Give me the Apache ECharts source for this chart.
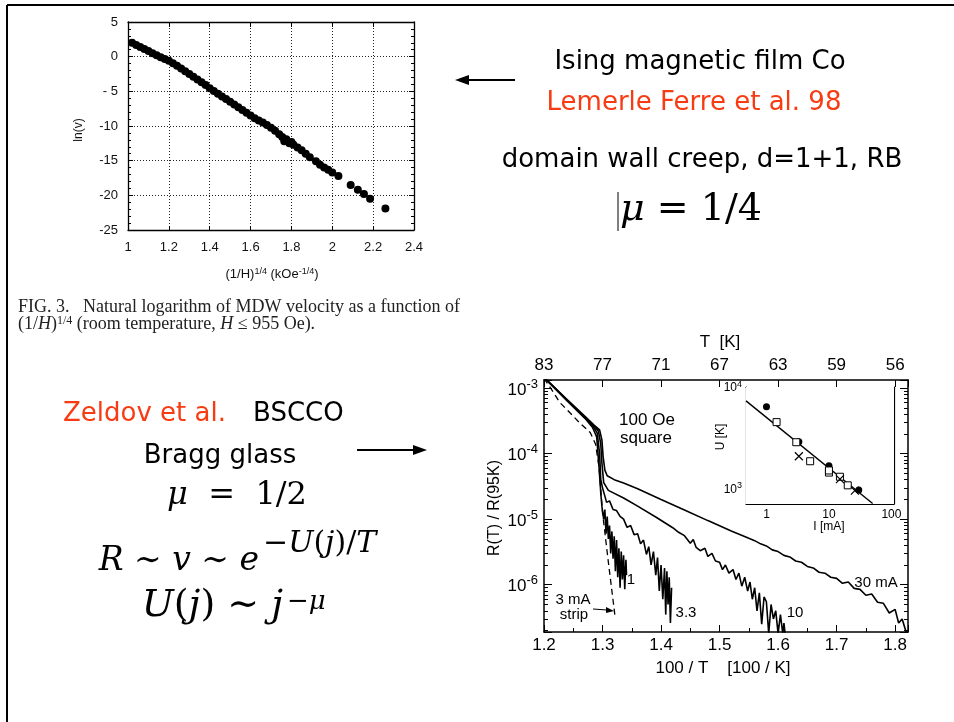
<!DOCTYPE html>
<html>
<head>
<meta charset="utf-8">
<script src="https://cdn.jsdelivr.net/npm/echarts@6/dist/echarts.min.js"></script>
<style>
html,body{margin:0;padding:0;background:#fff;}
#chart{width:954px;height:722px;}
</style>
</head>
<body>
<div id="chart"></div>
<script>
// ---- Lemerle et al. : ln(v) against (1/H)^(1/4)
var creepX = [1.02,1.04,1.06,1.08,1.10,1.12,1.14,1.16,1.18,1.20,1.22,1.24,1.26,1.28,1.30,1.32,1.34,1.36,1.38,1.40,
	1.42,1.44,1.46,1.48,1.50,1.52,1.54,1.56,1.58,1.60,1.62,1.64,1.66,1.68,1.70,1.72,1.74,
	1.755,1.765,1.775,1.79,1.80,1.81,1.83,1.85,1.87,1.89,1.92,1.94,1.96,1.98,2.00,2.03,2.09,2.125,2.155,2.185,2.26];
var creepLnV = [2.0,1.7,1.4,1.1,0.8,0.5,0.2,-0.1,-0.35,-0.6,-0.95,-1.3,-1.7,-2.1,-2.5,-2.9,-3.3,-3.7,-4.1,-4.55,
	-4.95,-5.35,-5.75,-6.1,-6.5,-6.9,-7.3,-7.7,-8.1,-8.5,-8.9,-9.2,-9.5,-9.85,-10.25,-10.7,-11.2,
	-11.6,-12.2,-11.9,-12.5,-12.3,-12.7,-13.1,-13.5,-14.0,-14.5,-15.1,-15.6,-16.0,-16.3,-16.7,-17.2,-18.5,-19.2,-19.8,-20.5,-21.9];

// ---- Zeldov et al. : R(T)/R(95K) against 100/T, one list of [100/T, R] per current
var curve30mA = [[1.200,1.45e-3],[1.240,6.6e-4],[1.270,3.7e-4],[1.286,2.7e-4],[1.295,2.3e-4],[1.299,1.6e-4],
	[1.301,9.0e-5],[1.304,5.6e-5],[1.308,4.6e-5],[1.320,4.0e-5],[1.336,3.55e-5],[1.360,2.9e-5],[1.400,2.0e-5],
	[1.440,1.38e-5],[1.480,9.5e-6],[1.520,6.6e-6],[1.550,5.1e-6],[1.560,4.7e-6],[1.570,4.2e-6],[1.580,3.9e-6],
	[1.590,3.4e-6],[1.600,3.2e-6],[1.610,2.8e-6],[1.620,2.65e-6],[1.630,2.3e-6],[1.640,2.2e-6],[1.650,1.9e-6],
	[1.660,1.8e-6],[1.670,1.55e-6],[1.680,1.5e-6],[1.690,1.3e-6],[1.700,1.25e-6],[1.710,1.05e-6],[1.720,1.1e-6],
	[1.730,8.8e-7],[1.740,8.5e-7],[1.750,6.9e-7],[1.760,7.2e-7],[1.770,5.4e-7],[1.780,5.2e-7],[1.790,3.7e-7],
	[1.800,4.2e-7],[1.806,2.6e-7],[1.812,3.0e-7],[1.818,2.0e-7],[1.822,1.7e-7]];
var curve10mA = [[1.200,1.45e-3],[1.240,6.5e-4],[1.270,3.6e-4],[1.285,2.65e-4],[1.293,2.2e-4],[1.297,1.4e-4],
	[1.299,7.1e-5],[1.302,3.6e-5],[1.310,2.75e-5],[1.336,2.1e-5],[1.360,1.58e-5],[1.393,1.05e-5],[1.420,7.4e-6],
	[1.430,6.3e-6],[1.440,5.6e-6],[1.450,4.3e-6],[1.455,4.9e-6],[1.460,3.7e-6],[1.467,3.3e-6],[1.475,3.6e-6],
	[1.480,2.7e-6],[1.487,3.0e-6],[1.493,2.3e-6],[1.500,2.2e-6],[1.505,1.7e-6],[1.510,2.0e-6],[1.516,1.5e-6],
	[1.523,1.7e-6],[1.528,1.2e-6],[1.533,1.5e-6],[1.538,9.5e-7],[1.543,1.3e-6],[1.548,8.0e-7],[1.552,1.1e-6],
	[1.556,6.0e-7],[1.560,9.0e-7],[1.564,4.0e-7],[1.568,7.5e-7],[1.572,2.5e-7],[1.576,6.5e-7],[1.580,5.5e-7],
	[1.584,1.8e-7],[1.588,5.0e-7],[1.592,3.0e-7],[1.596,4.0e-7],[1.600,1.8e-7],[1.604,3.5e-7],[1.608,1.8e-7],
	[1.610,2.6e-7],[1.612,1.8e-7]];
var curve3p3mA = [[1.200,1.45e-3],[1.240,6.4e-4],[1.270,3.5e-4],[1.284,2.6e-4],[1.291,2.05e-4],[1.295,1.0e-4],
	[1.297,4.0e-5],[1.300,3.0e-5],[1.307,1.8e-5],[1.312,1.9e-5],[1.318,1.4e-5],[1.324,1.35e-5],[1.330,1.1e-5],
	[1.336,1.0e-5],[1.342,7.5e-6],[1.348,8.0e-6],[1.354,5.8e-6],[1.360,6.0e-6],[1.365,4.2e-6],[1.370,4.8e-6],
	[1.375,2.9e-6],[1.379,3.8e-6],[1.383,2.0e-6],[1.387,3.2e-6],[1.391,1.4e-6],[1.394,2.6e-6],[1.397,8.0e-7],
	[1.400,2.0e-6],[1.403,6.0e-7],[1.406,1.8e-6],[1.408,3.5e-7],[1.410,1.6e-6],[1.412,5.0e-7],[1.414,1.3e-6],
	[1.416,2.6e-7],[1.418,9.0e-7]];
var curve1mA = [[1.200,1.45e-3],[1.240,6.3e-4],[1.270,3.45e-4],[1.283,2.5e-4],[1.290,1.8e-4],[1.294,6.3e-5],
	[1.297,2.5e-5],[1.299,1.55e-5],[1.302,1.0e-5],[1.304,1.4e-5],[1.306,6.0e-6],[1.308,1.1e-5],[1.310,5.0e-6],
	[1.312,8.0e-6],[1.314,3.0e-6],[1.316,6.5e-6],[1.318,2.5e-6],[1.320,5.5e-6],[1.322,1.6e-6],[1.324,4.8e-6],
	[1.326,1.3e-6],[1.328,3.6e-6],[1.330,9.0e-7],[1.332,3.2e-6],[1.334,1.2e-6],[1.336,2.8e-6],[1.338,8.5e-7],
	[1.340,2.4e-6],[1.341,1.4e-6]];
var curveStrip3mA = [[1.200,1.40e-3],[1.215,8.9e-4],[1.227,6.0e-4],[1.240,4.6e-4],[1.260,3.0e-4],[1.279,2.1e-4],
	[1.288,1.4e-4],[1.294,6.3e-5],[1.300,1.26e-5],[1.310,2.2e-6],[1.321,3.5e-7]];
var tempLabels = ['83', '77', '71', '67', '63', '59', '56'];

// ---- inset : U [K] against I [mA]
var insetCircles = [[1,6400],[3.3,2880],[10,1670],[30,960]];
var insetSquares = [[1.45,4500],[3,2850],[5,1850],[10,1430],[10,1500],[15,1300],[20,1070]];
var insetCrosses = [[3.3,2070],[15,1230],[26,950]];
var insetFit = [[0.47,7300],[50,707]];

// log minor tick positions
function minorList(d0, d1, lo, hi) {
	var out = [];
	for (var d = d0; d <= d1; d++) {
		for (var k = 2; k <= 9; k++) {
			var v = k * Math.pow(10, d);
			if (v > lo && v < hi) out.push(v);
		}
	}
	return out;
}
var mainMinor = minorList(-7, -4, 1.9e-7, 1.325e-3);
var insetXMinor = minorList(-1, 1, 0.47, 110);
var insetYMinor = minorList(2, 3, 700, 10000);

var SANS = 'Liberation Sans';
var MATH = 'DejaVu Serif';

function isDecade(v) {
	var e = Math.log10(v);
	return Math.abs(e - Math.round(e)) < 1e-6;
}
function powLabel(v) {
	if (!isDecade(v)) return '';
	return '{b|10}{s|' + Math.round(Math.log10(v)) + '}';
}
function stepIndex(v, start, step) {
	var i = Math.round((v - start) / step);
	return Math.abs(v - (start + i * step)) < 1e-6 ? i : -1;
}

var myChart = echarts.init(document.getElementById('chart'));

var blackLine = {onZero: false, lineStyle: {color: '#000', width: 1.3}};
var noLine = {show: false, onZero: false};
var curveStyle = {color: '#000', width: 1.6};

option = {
	animation: false,
	grid: [
		{left: 128, top: 22, width: 286, height: 208},
		{left: 544, top: 380, width: 364, height: 252},
		{left: 746, top: 387, width: 148, height: 117, show: true, backgroundColor: '#fff', borderWidth: 0, z: 5}
	],
	xAxis: [
		{
			gridIndex: 0, type: 'value', min: 1, max: 2.4, interval: 0.2, position: 'bottom',
			axisLine: blackLine,
			axisTick: {inside: true, length: 4, lineStyle: {color: '#000'}},
			axisLabel: {color: '#111', fontFamily: SANS, fontSize: 13, margin: 11},
			splitLine: {show: true, lineStyle: {color: '#222', type: [1, 2], width: 1}}
		},
		{
			gridIndex: 0, type: 'value', min: 1, max: 2.4, interval: 0.2, position: 'top',
			axisLine: blackLine,
			axisTick: {inside: true, length: 5, lineStyle: {color: '#000'}},
			axisLabel: {show: false}, splitLine: {show: false}
		},
		{
			gridIndex: 1, type: 'value', min: 1.2, max: 1.822, interval: 0.1, position: 'bottom',
			axisLine: {onZero: false, lineStyle: {color: '#000', width: 1.5}},
			axisTick: {inside: true, length: 7, lineStyle: {color: '#000'}},
			minorTick: {show: true, splitNumber: 2, length: 4, lineStyle: {color: '#000'}},
			axisLabel: {color: '#000', fontFamily: SANS, fontSize: 17, margin: 5,
				formatter: function (v) { return stepIndex(v, 1.2, 0.1) >= 0 ? v.toFixed(1) : ''; }},
			splitLine: {show: false}
		},
		{
			gridIndex: 1, type: 'value', min: 1.2, max: 1.822, interval: 0.1, position: 'top',
			axisLine: {onZero: false, lineStyle: {color: '#000', width: 1.5}},
			axisTick: {inside: true, length: 7, lineStyle: {color: '#000'}},
			axisLabel: {color: '#000', fontFamily: SANS, fontSize: 17, margin: 6,
				formatter: function (v) { var i = stepIndex(v, 1.2, 0.1); return i >= 0 && tempLabels[i] ? tempLabels[i] : ''; }},
			splitLine: {show: false}
		},
		{
			gridIndex: 2, type: 'log', logBase: 10, min: 0.47, max: 110, position: 'bottom',
			axisLine: {onZero: false, lineStyle: {color: '#000', width: 1.2}},
			axisTick: {inside: true, length: 6, lineStyle: {color: '#000'}},
			axisLabel: {color: '#000', fontFamily: SANS, fontSize: 12, margin: 5,
				formatter: function (v) { return isDecade(v) ? String(Math.round(v)) : ''; }},
			splitLine: {show: false}
		},
		{
			gridIndex: 2, type: 'log', logBase: 10, min: 0.47, max: 110, position: 'bottom',
			axisLine: noLine,
			axisTick: {inside: true, length: 3, customValues: insetXMinor, lineStyle: {color: '#000'}},
			axisLabel: {show: false}, splitLine: {show: false}
		},
		{
			gridIndex: 2, type: 'log', logBase: 10, min: 0.47, max: 110, position: 'top',
			axisLine: {onZero: false, lineStyle: {color: '#000', width: 1.2}},
			axisTick: {inside: true, length: 6, lineStyle: {color: '#000'}},
			axisLabel: {show: false}, splitLine: {show: false}
		},
		{
			gridIndex: 2, type: 'log', logBase: 10, min: 0.47, max: 110, position: 'top',
			axisLine: noLine,
			axisTick: {inside: true, length: 3, customValues: insetXMinor, lineStyle: {color: '#000'}},
			axisLabel: {show: false}, splitLine: {show: false}
		}
	],
	yAxis: [
		{
			gridIndex: 0, type: 'value', min: -25, max: 5, interval: 5, position: 'left',
			axisLine: blackLine,
			axisTick: {inside: true, length: 5, lineStyle: {color: '#000'}},
			minorTick: {show: true, splitNumber: 5, length: 3, lineStyle: {color: '#000'}},
			axisLabel: {color: '#111', fontFamily: SANS, fontSize: 13, margin: 10,
				formatter: function (v) { return v < 0 ? (v > -10 ? '- ' + (-v) : '-' + (-v)) : String(v); }},
			splitLine: {show: true, lineStyle: {color: '#222', type: [1, 2], width: 1}}
		},
		{
			gridIndex: 0, type: 'value', min: -25, max: 5, interval: 5, position: 'right',
			axisLine: blackLine,
			axisTick: {inside: true, length: 5, lineStyle: {color: '#000'}},
			minorTick: {show: true, splitNumber: 5, length: 3, lineStyle: {color: '#000'}},
			axisLabel: {show: false}, splitLine: {show: false}
		},
		{
			gridIndex: 1, type: 'log', logBase: 10, min: 1.9e-7, max: 1.325e-3, position: 'left',
			axisLine: {onZero: false, lineStyle: {color: '#000', width: 1.5}},
			axisTick: {inside: true, length: 8, lineStyle: {color: '#000'}},
			axisLabel: {color: '#000', fontFamily: SANS, margin: 6, formatter: powLabel,
				rich: {
					b: {fontSize: 17, fontFamily: SANS, verticalAlign: 'bottom'},
					s: {fontSize: 13, fontFamily: SANS, verticalAlign: 'top', padding: [0, 0, 8, 0]}
				}},
			splitLine: {show: false}
		},
		{
			gridIndex: 1, type: 'log', logBase: 10, min: 1.9e-7, max: 1.325e-3, position: 'left',
			axisLine: noLine,
			axisTick: {inside: true, length: 4, customValues: mainMinor, lineStyle: {color: '#000'}},
			axisLabel: {show: false}, splitLine: {show: false}
		},
		{
			gridIndex: 1, type: 'log', logBase: 10, min: 1.9e-7, max: 1.325e-3, position: 'right',
			axisLine: {onZero: false, lineStyle: {color: '#000', width: 1.5}},
			axisTick: {inside: true, length: 8, lineStyle: {color: '#000'}},
			axisLabel: {show: false}, splitLine: {show: false}
		},
		{
			gridIndex: 1, type: 'log', logBase: 10, min: 1.9e-7, max: 1.325e-3, position: 'right',
			axisLine: noLine,
			axisTick: {inside: true, length: 4, customValues: mainMinor, lineStyle: {color: '#000'}},
			axisLabel: {show: false}, splitLine: {show: false}
		},
		{
			gridIndex: 2, type: 'log', logBase: 10, min: 700, max: 10000, position: 'left',
			axisLine: {onZero: false, lineStyle: {color: '#000', width: 1.2}},
			axisTick: {inside: true, length: 6, lineStyle: {color: '#000'}},
			axisLabel: {color: '#000', fontFamily: SANS, margin: 4, formatter: powLabel,
				rich: {
					b: {fontSize: 12, fontFamily: SANS, verticalAlign: 'bottom'},
					s: {fontSize: 9, fontFamily: SANS, verticalAlign: 'top', padding: [0, 0, 5, 0]}
				}},
			splitLine: {show: false}
		},
		{
			gridIndex: 2, type: 'log', logBase: 10, min: 700, max: 10000, position: 'left',
			axisLine: noLine,
			axisTick: {inside: true, length: 3, customValues: insetYMinor, lineStyle: {color: '#000'}},
			axisLabel: {show: false}, splitLine: {show: false}
		},
		{
			gridIndex: 2, type: 'log', logBase: 10, min: 700, max: 10000, position: 'right',
			axisLine: {onZero: false, lineStyle: {color: '#000', width: 1.2}},
			axisTick: {inside: true, length: 6, lineStyle: {color: '#000'}},
			axisLabel: {show: false}, splitLine: {show: false}
		},
		{
			gridIndex: 2, type: 'log', logBase: 10, min: 700, max: 10000, position: 'right',
			axisLine: noLine,
			axisTick: {inside: true, length: 3, customValues: insetYMinor, lineStyle: {color: '#000'}},
			axisLabel: {show: false}, splitLine: {show: false}
		}
	],
	series: [
		{
			name: 'ln(v)', type: 'scatter', xAxisIndex: 0, yAxisIndex: 0,
			symbolSize: 8, itemStyle: {color: '#000', opacity: 1},
			data: creepX.map(function (x, i) { return [x, creepLnV[i]]; })
		},
		{name: '30 mA', type: 'line', xAxisIndex: 2, yAxisIndex: 2, showSymbol: false, symbol: 'none',
			lineStyle: curveStyle, data: curve30mA},
		{name: '10 mA', type: 'line', xAxisIndex: 2, yAxisIndex: 2, showSymbol: false, symbol: 'none',
			lineStyle: curveStyle, data: curve10mA},
		{name: '3.3 mA', type: 'line', xAxisIndex: 2, yAxisIndex: 2, showSymbol: false, symbol: 'none',
			lineStyle: curveStyle, data: curve3p3mA},
		{name: '1 mA', type: 'line', xAxisIndex: 2, yAxisIndex: 2, showSymbol: false, symbol: 'none',
			lineStyle: curveStyle, data: curve1mA},
		{name: '3 mA strip', type: 'line', xAxisIndex: 2, yAxisIndex: 2, showSymbol: false, symbol: 'none',
			lineStyle: {color: '#000', width: 1.3, type: [6, 4]}, data: curveStrip3mA},
		{name: 'fit', type: 'line', xAxisIndex: 4, yAxisIndex: 6, showSymbol: false, symbol: 'none', z: 6,
			lineStyle: {color: '#000', width: 1.4}, data: insetFit},
		{name: 'circles', type: 'scatter', xAxisIndex: 4, yAxisIndex: 6, symbol: 'circle', symbolSize: 7, z: 7,
			itemStyle: {color: '#000', opacity: 1}, data: insetCircles},
		{name: 'squares', type: 'scatter', xAxisIndex: 4, yAxisIndex: 6, symbol: 'rect', symbolSize: 7, z: 7,
			itemStyle: {color: '#fff', borderColor: '#000', borderWidth: 1, opacity: 1}, data: insetSquares},
		{name: 'crosses', type: 'scatter', xAxisIndex: 4, yAxisIndex: 6, symbol: 'path://M0,0L10,10M10,0L0,10',
			symbolSize: 8, z: 7, itemStyle: {color: 'none', borderColor: '#000', borderWidth: 1.2, opacity: 1}, data: insetCrosses}
	],
	graphic: [
		// slide frame
		{type: 'line', shape: {x1: 7, y1: 5, x2: 954, y2: 5}, style: {stroke: '#000', lineWidth: 2}},
		{type: 'line', shape: {x1: 7, y1: 5, x2: 7, y2: 722}, style: {stroke: '#000', lineWidth: 2}},

		// top-left figure texts
		{type: 'text', x: 79, y: 130, rotation: Math.PI / 2,
			style: {text: 'ln(v)', fontSize: 12, fontFamily: SANS, fill: '#111', align: 'center', verticalAlign: 'middle'}},
		{type: 'text', x: 272, y: 274,
			style: {text: '{b|(1/H)}{s|1/4}{b| (kOe}{s|-1/4}{b|)}', align: 'center', verticalAlign: 'middle', fill: '#111',
				rich: {
					b: {fontSize: 13, fontFamily: SANS, verticalAlign: 'bottom'},
					s: {fontSize: 9, fontFamily: SANS, verticalAlign: 'top', padding: [0, 0, 5, 0]}
				}}},
		{type: 'text', x: 18, y: 307,
			style: {text: 'FIG. 3.   Natural logarithm of MDW velocity as a function of', fontSize: 18,
				fontFamily: 'Liberation Serif', fill: '#222', align: 'left', verticalAlign: 'middle'}},
		{type: 'text', x: 18, y: 324,
			style: {text: '{n|(1/}{i|H}{n|)}{s|1/4}{n| (room temperature, }{i|H}{n| \u2264 955 Oe).}', fill: '#222',
				align: 'left', verticalAlign: 'middle',
				rich: {
					n: {fontSize: 18, fontFamily: 'Liberation Serif', verticalAlign: 'bottom'},
					i: {fontSize: 18, fontFamily: 'Liberation Serif', fontStyle: 'italic', verticalAlign: 'bottom'},
					s: {fontSize: 12, fontFamily: 'Liberation Serif', verticalAlign: 'top', padding: [0, 0, 7, 0]}
				}}},

		// top-right notes
		{type: 'line', shape: {x1: 515, y1: 80, x2: 466, y2: 80}, style: {stroke: '#000', lineWidth: 2}},
		{type: 'polygon', shape: {points: [[455, 80], [469, 75], [469, 85]]}, style: {fill: '#000'}},
		{type: 'text', x: 700, y: 62,
			style: {text: 'Ising magnetic film Co', fontSize: 26, fontFamily: 'DejaVu Sans', fill: '#000', align: 'center', verticalAlign: 'middle'}},
		{type: 'text', x: 694, y: 103,
			style: {text: 'Lemerle Ferre et al. 98', fontSize: 26, fontFamily: 'DejaVu Sans', fill: '#f73c14', align: 'center', verticalAlign: 'middle'}},
		{type: 'text', x: 702, y: 160,
			style: {text: 'domain wall creep, d=1+1, RB', fontSize: 26, fontFamily: 'DejaVu Sans', fill: '#000', align: 'center', verticalAlign: 'middle'}},
		{type: 'line', shape: {x1: 618, y1: 192, x2: 618, y2: 231}, style: {stroke: '#000', lineWidth: 1}},
		{type: 'text', x: 691, y: 210,
			style: {text: '{i|\u03bc}{n| = 1/4}', align: 'center', verticalAlign: 'middle', fill: '#000',
				rich: {
					i: {fontSize: 38, fontFamily: MATH, fontStyle: 'italic'},
					n: {fontSize: 38, fontFamily: MATH}
				}}},

		// bottom-left notes
		{type: 'text', x: 63, y: 414,
			style: {text: 'Zeldov et al.', fontSize: 26, fontFamily: 'DejaVu Sans', fill: '#f73c14', align: 'left', verticalAlign: 'middle'}},
		{type: 'text', x: 253, y: 414,
			style: {text: 'BSCCO', fontSize: 26, fontFamily: 'DejaVu Sans', fill: '#000', align: 'left', verticalAlign: 'middle'}},
		{type: 'text', x: 220, y: 456,
			style: {text: 'Bragg glass', fontSize: 26, fontFamily: 'DejaVu Sans', fill: '#000', align: 'center', verticalAlign: 'middle'}},
		{type: 'line', shape: {x1: 357, y1: 450, x2: 415, y2: 450}, style: {stroke: '#000', lineWidth: 2}},
		{type: 'polygon', shape: {points: [[427, 450], [413, 445], [413, 455]]}, style: {fill: '#000'}},
		{type: 'text', x: 237, y: 496,
			style: {text: '{i|\u03bc}{n|  =  1/2}', align: 'center', verticalAlign: 'middle', fill: '#000',
				rich: {
					i: {fontSize: 32, fontFamily: MATH, fontStyle: 'italic'},
					n: {fontSize: 32, fontFamily: MATH}
				}}},
		{type: 'text', x: 259, y: 561,
			style: {text: '{i|R}{n| \u223c }{i|v}{n| \u223c }{i|e}', align: 'right', verticalAlign: 'middle', fill: '#000',
				rich: {
					i: {fontSize: 33, fontFamily: MATH, fontStyle: 'italic'},
					n: {fontSize: 33, fontFamily: MATH}
				}}},
		{type: 'text', x: 263, y: 544,
			style: {text: '{n|\u2212}{i|U}{n|(}{i|j}{n|)/}{i|T}', align: 'left', verticalAlign: 'middle', fill: '#000',
				rich: {
					i: {fontSize: 30, fontFamily: MATH, fontStyle: 'italic'},
					n: {fontSize: 30, fontFamily: MATH}
				}}},
		{type: 'text', x: 283, y: 606,
			style: {text: '{i|U}{n|(}{i|j}{n|) \u223c }{i|j}', align: 'right', verticalAlign: 'middle', fill: '#000',
				rich: {
					i: {fontSize: 38, fontFamily: MATH, fontStyle: 'italic'},
					n: {fontSize: 38, fontFamily: MATH}
				}}},
		{type: 'text', x: 287, y: 602,
			style: {text: '{n|\u2212}{i|\u03bc}', align: 'left', verticalAlign: 'middle', fill: '#000',
				rich: {
					i: {fontSize: 26, fontFamily: MATH, fontStyle: 'italic'},
					n: {fontSize: 26, fontFamily: MATH}
				}}},

		// bottom-right figure labels
		{type: 'text', x: 720, y: 342,
			style: {text: 'T  [K]', fontSize: 17, fontFamily: SANS, fill: '#000', align: 'center', verticalAlign: 'middle'}},
		{type: 'text', x: 723, y: 668,
			style: {text: '100 / T    [100 / K]', fontSize: 17, fontFamily: SANS, fill: '#000', align: 'center', verticalAlign: 'middle'}},
		{type: 'text', x: 495, y: 508, rotation: Math.PI / 2,
			style: {text: 'R(T) / R(95K)', fontSize: 16, fontFamily: SANS, fill: '#000', align: 'center', verticalAlign: 'middle'}},
		{type: 'text', x: 647, y: 420,
			style: {text: '100 Oe', fontSize: 17, fontFamily: SANS, fill: '#000', align: 'center', verticalAlign: 'middle'}},
		{type: 'text', x: 646, y: 438,
			style: {text: 'square', fontSize: 17, fontFamily: SANS, fill: '#000', align: 'center', verticalAlign: 'middle'}},
		{type: 'text', x: 631, y: 580,
			style: {text: '1', fontSize: 15, fontFamily: SANS, fill: '#000', align: 'center', verticalAlign: 'middle'}},
		{type: 'text', x: 686, y: 613,
			style: {text: '3.3', fontSize: 15, fontFamily: SANS, fill: '#000', align: 'center', verticalAlign: 'middle'}},
		{type: 'text', x: 795, y: 613,
			style: {text: '10', fontSize: 15, fontFamily: SANS, fill: '#000', align: 'center', verticalAlign: 'middle'}},
		{type: 'text', x: 876, y: 583,
			style: {text: '30 mA', fontSize: 15, fontFamily: SANS, fill: '#000', align: 'center', verticalAlign: 'middle'}},
		{type: 'text', x: 573, y: 600,
			style: {text: '3 mA', fontSize: 15, fontFamily: SANS, fill: '#000', align: 'center', verticalAlign: 'middle'}},
		{type: 'text', x: 574, y: 615,
			style: {text: 'strip', fontSize: 15, fontFamily: SANS, fill: '#000', align: 'center', verticalAlign: 'middle'}},
		{type: 'line', shape: {x1: 593, y1: 609, x2: 607, y2: 610}, style: {stroke: '#000', lineWidth: 1}},
		{type: 'polygon', shape: {points: [[614, 611], [606, 607], [606, 613]]}, style: {fill: '#000'}},
		{type: 'text', x: 721, y: 437, rotation: Math.PI / 2, z: 10,
			style: {text: 'U [K]', fontSize: 12, fontFamily: SANS, fill: '#000', align: 'center', verticalAlign: 'middle'}},
		{type: 'text', x: 829, y: 527, z: 10,
			style: {text: 'I [mA]', fontSize: 12, fontFamily: SANS, fill: '#000', align: 'center', verticalAlign: 'middle'}}
	]
};

myChart.setOption(option);
</script>
</body>
</html>
